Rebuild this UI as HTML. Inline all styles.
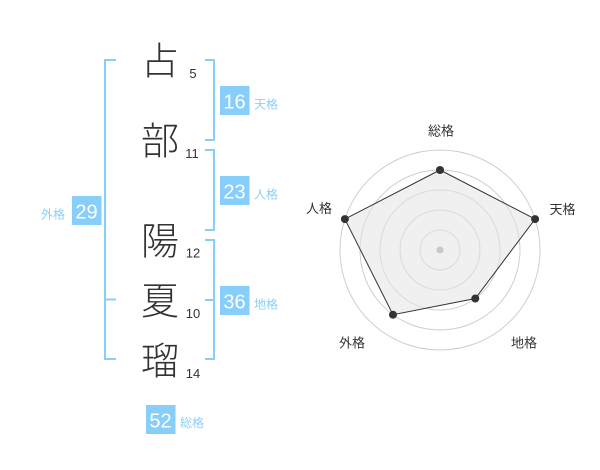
<!DOCTYPE html>
<html>
<head>
<meta charset="utf-8">
<style>
html,body{margin:0;padding:0;background:#fff;}
svg{display:block;}
.ch{font-family:"Liberation Sans","Noto Sans CJK JP",sans-serif;font-size:38px;fill:#333;text-anchor:middle;font-weight:300;}
.num{font-family:"Liberation Sans",sans-serif;font-size:13px;fill:#333;text-anchor:middle;}
.bt{font-family:"Liberation Sans",sans-serif;font-size:20px;fill:#fff;text-anchor:middle;}
.bl{font-family:"Liberation Sans","Noto Sans CJK JP",sans-serif;font-size:12px;fill:#8dcff7;}
.rl{font-family:"Liberation Sans","Noto Sans CJK JP",sans-serif;font-size:13px;fill:#333;text-anchor:middle;}
</style>
</head>
<body>
<svg width="600" height="470" viewBox="0 0 600 470" xmlns="http://www.w3.org/2000/svg">
<rect width="600" height="470" fill="#fff"/>

<!-- Left bracket (外格) -->
<g fill="#87cefa">
  <rect x="104" y="59" width="2" height="301"/>
  <rect x="104" y="59" width="12" height="2"/>
  <rect x="104" y="298.5" width="12" height="2"/>
  <rect x="104" y="358" width="12" height="2"/>
</g>

<!-- Right bracket 1 (天格) -->
<g fill="#87cefa">
  <rect x="213" y="59" width="2" height="82"/>
  <rect x="205" y="59" width="10" height="2"/>
  <rect x="205" y="139" width="10" height="2"/>
</g>
<!-- Right bracket 2 (人格) -->
<g fill="#87cefa">
  <rect x="213" y="149" width="2" height="82"/>
  <rect x="205" y="149" width="10" height="2"/>
  <rect x="205" y="229" width="10" height="2"/>
</g>
<!-- Right bracket 3 (地格) -->
<g fill="#87cefa">
  <rect x="213" y="239" width="2" height="121"/>
  <rect x="205" y="239" width="10" height="2"/>
  <rect x="205" y="299" width="10" height="2"/>
  <rect x="205" y="358" width="10" height="2"/>
</g>

<!-- Characters -->
<text class="ch" x="160" y="74.5">占</text>
<text class="ch" x="160" y="154.5">部</text>
<text class="ch" x="160" y="254.5">陽</text>
<text class="ch" x="160" y="314.5">夏</text>
<text class="ch" x="160" y="374.5">瑠</text>

<!-- Stroke counts -->
<text class="num" x="193" y="78">5</text>
<text class="num" x="192" y="158">11</text>
<text class="num" x="193" y="257.5">12</text>
<text class="num" x="193" y="318">10</text>
<text class="num" x="193" y="378">14</text>

<!-- Badges -->
<rect x="220" y="86" width="29.5" height="29" fill="#87cefa"/>
<text class="bt" x="234.5" y="108.5">16</text>
<text class="bl" x="254" y="108.5">天格</text>

<rect x="220" y="176" width="29.5" height="29" fill="#87cefa"/>
<text class="bt" x="234.5" y="198.5">23</text>
<text class="bl" x="254" y="198.5">人格</text>

<rect x="220" y="286" width="29.5" height="29" fill="#87cefa"/>
<text class="bt" x="234.5" y="308.5">36</text>
<text class="bl" x="254" y="308.5">地格</text>

<rect x="72" y="196" width="29.5" height="29" fill="#87cefa"/>
<text class="bt" x="86.5" y="218.5">29</text>
<text class="bl" x="41" y="218.5">外格</text>

<rect x="146" y="405" width="29.5" height="29" fill="#87cefa"/>
<text class="bt" x="160.5" y="427.5">52</text>
<text class="bl" x="180" y="427">総格</text>

<!-- Radar -->
<g fill="none" stroke="#cfcfcf" stroke-width="1">
  <circle cx="440" cy="250" r="20"/>
  <circle cx="440" cy="250" r="40"/>
  <circle cx="440" cy="250" r="60"/>
  <circle cx="440" cy="250" r="80"/>
  <circle cx="440" cy="250" r="100"/>
</g>
<polygon points="440,170 535.1,219.1 475.3,298.5 393,314.7 344.9,219.1" fill="#e4e4e4" fill-opacity="0.55" stroke="#333" stroke-width="1"/>
<circle cx="440" cy="250" r="3.5" fill="#c8c8c8"/>
<g fill="#333">
  <circle cx="440" cy="170" r="4"/>
  <circle cx="535.1" cy="219.1" r="4"/>
  <circle cx="475.3" cy="298.5" r="4"/>
  <circle cx="393" cy="314.7" r="4"/>
  <circle cx="344.9" cy="219.1" r="4"/>
</g>

<text class="rl" x="441" y="135.5">総格</text>
<text class="rl" x="562.5" y="214">天格</text>
<text class="rl" x="319" y="213">人格</text>
<text class="rl" x="352" y="347.5">外格</text>
<text class="rl" x="524" y="347.5">地格</text>
</svg>
</body>
</html>
